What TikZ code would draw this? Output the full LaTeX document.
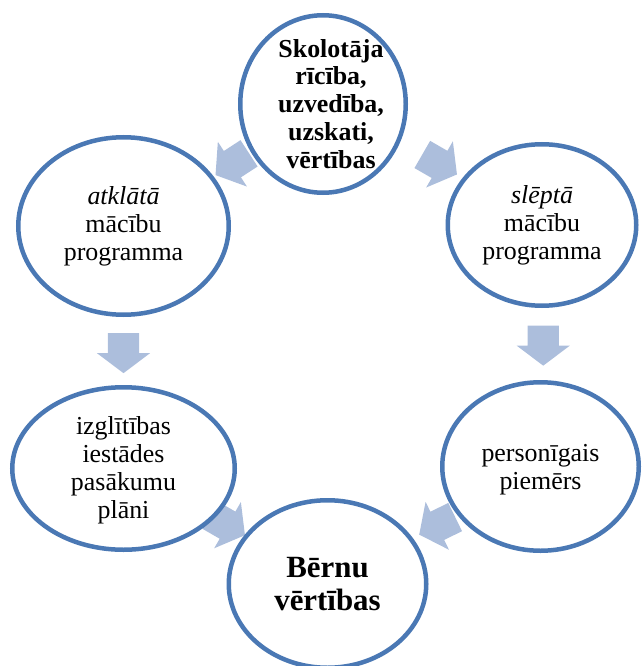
\documentclass[tikz,border=0pt]{standalone}
\usepackage{fontspec}
\setmainfont{Liberation Serif}
\usetikzlibrary{shapes.geometric,shapes.arrows,backgrounds,calc}
\definecolor{ringblue}{RGB}{74,120,180}
\definecolor{arrowblue}{RGB}{172,190,220}

\begin{document}
\begin{tikzpicture}[x=1bp,y=-1bp]
\tikzstyle{ring}=[ellipse,draw=ringblue,line width=4.5bp,fill=white,inner sep=0pt]
\tikzstyle{ringtext}=[align=center,inner sep=0pt,font=\fontsize{26}{28}\selectfont]
\tikzstyle{blk}=[single arrow,fill=arrowblue,draw=none,inner xsep=0pt,inner ysep=15.5bp,minimum height=40bp,single arrow head extend=11bp,single arrow tip angle=106]

\useasboundingbox (0,0) rectangle (642,666);

\node[ring,minimum width=165.5bp,minimum height=177.5bp] (skolotajs) at (323,104) {};
\node[ringtext,xshift=8bp] (skolotajs-txt) at (skolotajs) {\textbf{Skolotāja}\\\textbf{rīcība,}\\\textbf{uzvedība,}\\\textbf{uzskati,}\\\textbf{vērtības}};

\node[ring,minimum width=210.5bp,minimum height=177.5bp] (atklata) at (123.5,226) {};
\node[ringtext] (atklata-txt) at (atklata) {\textit{atklātā}\\mācību\\programma};

\node[ring,minimum width=188.5bp,minimum height=161.5bp] (slepta) at (542,225) {};
\node[ringtext] (slepta-txt) at (slepta) {\textit{slēptā}\\mācību\\programma};

\node[ring,minimum width=222.5bp,minimum height=162.5bp] (plani) at (123.5,468.5) {};
\node[ringtext,yshift=-2bp] (plani-txt) at (plani) {izglītības\\iestādes\\pasākumu\\plāni};

\node[ring,minimum width=196.5bp,minimum height=168.5bp] (piemers) at (540.5,466.5) {};
\node[ringtext,yshift=-3bp] (piemers-txt) at (piemers) {personīgais\\piemērs};

\node[ring,minimum width=197.5bp,minimum height=167.5bp] (vertibas) at (327.5,584) {};
\node[ringtext,font=\fontsize{31}{34}\selectfont] (vertibas-txt) at (vertibas) {\textbf{Bērnu}\\\textbf{vērtības}};

% bultas aiz apļiem
\begin{scope}[on background layer]
\node[blk,rotate=213] (bulta1) at ($(skolotajs)!0.5!(atklata)+(14,-4)$) {};
\node[blk,rotate=-30] (bulta2) at ($(skolotajs)!0.5!(slepta)+(2,-3)$) {};
\node[blk,rotate=-90] (bulta3) at ($(atklata)!0.5!(plani)+(0,0)$) {};
\node[blk,rotate=-90] (bulta4) at ($(slepta)!0.5!(piemers)+(2,-6)$) {};
\node[blk,rotate=-30] (bulta5) at ($(plani)!0.5!(vertibas)+(-3,-4)$) {};
\node[blk,rotate=206] (bulta6) at ($(piemers)!0.5!(vertibas)+(8.5,-2)$) {};
\end{scope}
\end{tikzpicture}
\end{document}
